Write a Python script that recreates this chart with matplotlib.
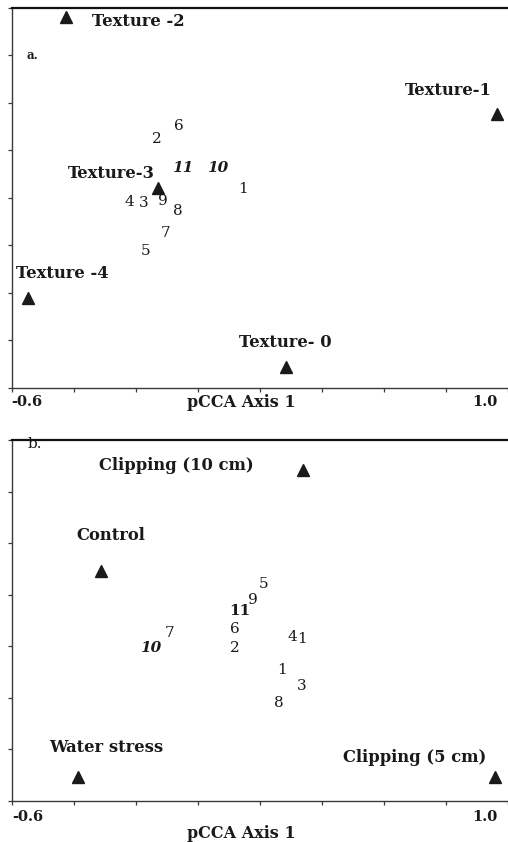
"""pCCA ordination biplots: (a) soil texture, (b) defoliation / water treatments."""

import matplotlib
matplotlib.use("Agg")
import matplotlib.pyplot as plt
import numpy as np

# ---- panel a: texture constraints (triangles) and species scores (numbers)
env_a_names = ["Texture -2", "Texture-1", "Texture-3", "Texture -4", "Texture- 0"]
env_a_x = [-0.425, 0.965, -0.128, -0.547, 0.284]
env_a_y = [0.762, 0.354, 0.042, -0.421, -0.712]

sp_a_labels = ["1", "2", "3", "4", "5", "6", "7", "8", "9", "10", "11"]
sp_a_x = [0.146, -0.132, -0.173, -0.222, -0.167, -0.061, -0.103, -0.064, -0.112, 0.065, -0.048]
sp_a_y = [0.038, 0.249, -0.021, -0.017, -0.223, 0.303, -0.147, -0.055, -0.013, 0.126, 0.126]

# ---- panel b: treatment constraints and species scores
env_b_names = ["Clipping (10 cm)", "Control", "Water stress", "Clipping (5 cm)"]
env_b_x = [0.339, -0.312, -0.389, 0.958]
env_b_y = [0.584, 0.192, -0.607, -0.607]

sp_b_labels = ["5", "9", "11", "6", "7", "10", "2", "4", "1", "1", "3", "8"]
sp_b_x = [0.210, 0.178, 0.133, 0.117, -0.093, -0.154, 0.117, 0.304, 0.336, 0.271, 0.333, 0.262]
sp_b_y = [0.142, 0.080, 0.037, -0.033, -0.049, -0.107, -0.107, -0.064, -0.072, -0.192, -0.254, -0.320]

# label offsets (pixels) relative to each triangle, plus alignment
env_a_offsets = [(26, -4, "left"), (-49, 23, "center"), (-47, 15, "center"),
                 (34, 24, "center"), (-1, 25, "center")]
env_b_offsets = [(-127, 4, "center"), (9, 36, "center"), (29, 30, "center"),
                 (-80, 20, "center")]

# special styling of a few species numbers
sp_a_style = {"10": ("bold", "italic"), "11": ("bold", "italic")}
sp_b_style = {"10": ("bold", "italic"), "11": ("bold", "normal")}

SERIF = "DejaVu Serif"
INK = "#1a1a1a"
AXC = "#3a3a3a"


def draw_panel(ax, env_x, env_y, env_names, offsets, sp_x, sp_y, sp_labels,
               sp_style, ylim, nyticks, xlabel_y, tick_y):
    ax.set_xlim(-0.6, 1.0)
    ax.set_ylim(*ylim)

    ax.plot(env_x, env_y, "^", color=INK, markersize=8.5, clip_on=False)
    for x, y, name, (dx, dy, ha) in zip(env_x, env_y, env_names, offsets):
        ax.annotate(name, (x, y), xytext=(dx, dy), textcoords="offset pixels",
                    ha=ha, va="center", fontsize=11.8, fontweight="bold",
                    family=SERIF, color=INK)

    for x, y, lab in zip(sp_x, sp_y, sp_labels):
        weight, style = sp_style.get(lab, ("normal", "normal"))
        ax.text(x, y, lab, ha="center", va="center", fontsize=11,
                fontweight=weight, fontstyle=style, family=SERIF, color=INK)

    ax.set_xticks(np.linspace(-0.6, 1.0, 9))
    ax.set_xticklabels([])
    ax.set_yticks(np.linspace(ylim[0], ylim[1], nyticks))
    ax.set_yticklabels([])
    ax.tick_params(direction="out", length=3, width=0.9, color=AXC)
    for side in ("left", "bottom", "top"):
        ax.spines[side].set_color(AXC)
        ax.spines[side].set_linewidth(1.0)
    ax.spines["top"].set_linewidth(1.6)
    ax.spines["top"].set_color("#111111")
    ax.spines["right"].set_visible(False)

    ax.text(0.0, tick_y, "-0.6", transform=ax.transAxes, ha="left", va="center",
            fontsize=10.5, fontweight="bold", family=SERIF, color=INK)
    ax.text(0.978, tick_y, "1.0", transform=ax.transAxes, ha="right", va="center",
            fontsize=10.5, fontweight="bold", family=SERIF, color=INK)
    ax.text(0.462, xlabel_y, "pCCA Axis 1", transform=ax.transAxes, ha="center",
            va="center", fontsize=11.5, fontweight="bold", family=SERIF, color=INK)


fig = plt.figure(figsize=(5.08, 8.42), dpi=100)
ax_a = fig.add_axes([0.023, 0.5392, 0.977, 0.4513])
ax_b = fig.add_axes([0.024, 0.0487, 0.976, 0.4287])

draw_panel(ax_a, env_a_x, env_a_y, env_a_names, env_a_offsets,
           sp_a_x, sp_a_y, sp_a_labels, sp_a_style,
           ylim=(-0.8, 0.8), nyticks=9, xlabel_y=-0.037, tick_y=-0.037)
ax_a.text(0.03, 0.876, "a.", transform=ax_a.transAxes, ha="left", va="center",
          fontsize=8.5, fontweight="bold", family=SERIF, color=INK)

draw_panel(ax_b, env_b_x, env_b_y, env_b_names, env_b_offsets,
           sp_b_x, sp_b_y, sp_b_labels, sp_b_style,
           ylim=(-0.7, 0.7), nyticks=8, xlabel_y=-0.089, tick_y=-0.044)
ax_b.text(0.03, 0.99, "b.", transform=ax_b.transAxes, ha="left", va="center",
          fontsize=11, family=SERIF, color=INK)

fig.savefig("out.png", dpi=100)
